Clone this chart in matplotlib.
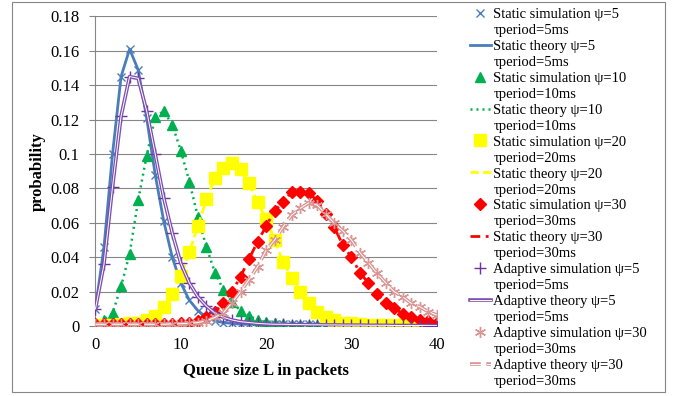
import numpy as np
import matplotlib
matplotlib.use("Agg")
from matplotlib import pyplot as plt
from matplotlib.lines import Line2D
from matplotlib.patches import Rectangle
from matplotlib.legend_handler import HandlerTuple

plt.rcParams['font.family'] = ['Liberation Serif', 'DejaVu Serif']

queue_size = np.arange(0, 41)

static_sim_5 = [0.010, 0.046, 0.100, 0.145, 0.161, 0.149, 0.121, 0.088, 0.061, 0.040,
                0.025, 0.015, 0.009, 0.005, 0.003, 0.002, 0.0015, 0.001, 0.001, 0.001,
                0.001, 0.001, 0.001, 0.001, 0.001, 0.001, 0.0008, 0.0007, 0.0006, 0.0005,
                0.0004, 0.0003, 0.0003, 0.0002, 0.0002, 0.0001, 0.0001, 0.0001, 0.0001, 0.0001, 0.0001]
static_sim_10 = [0.0005, 0.0035, 0.0074, 0.023, 0.042, 0.073, 0.099, 0.1215, 0.125, 0.117,
                 0.102, 0.084, 0.0635, 0.046, 0.031, 0.021, 0.014, 0.009, 0.006, 0.0035,
                 0.0025, 0.0015, 0.001, 0.0008, 0.0005, 0.0004, 0.0003, 0.0002, 0.0002, 0.0001,
                 0.0001, 0.0001, 0.0001, 0, 0, 0, 0, 0, 0, 0, 0]
static_sim_20 = [0.0005, 0.0005, 0.0007, 0.001, 0.0015, 0.002, 0.0035, 0.006, 0.011, 0.0186,
                 0.029, 0.043, 0.058, 0.0736, 0.086, 0.092, 0.0945, 0.091, 0.083, 0.072,
                 0.062, 0.050, 0.037, 0.028, 0.020, 0.0135, 0.0083, 0.005, 0.0035, 0.002,
                 0.0015, 0.001, 0.0008, 0.0006, 0.0005, 0.0004, 0.0003, 0.0003, 0.0002, 0.0002, 0.0001]
static_sim_30 = [0.001, 0.001, 0.001, 0.001, 0.001, 0.001, 0.001, 0.001, 0.001, 0.0012,
                 0.0015, 0.002, 0.003, 0.005, 0.0083, 0.0135, 0.020, 0.0286, 0.039, 0.049,
                 0.058, 0.067, 0.072, 0.078, 0.078, 0.0774, 0.0728, 0.065, 0.0573, 0.047,
                 0.040, 0.031, 0.025, 0.0186, 0.0135, 0.0103, 0.0072, 0.005, 0.0035, 0.0028, 0.0016]
adaptive_sim_5 = [0.010, 0.036, 0.081, 0.122, 0.145, 0.144, 0.125, 0.100, 0.0745, 0.054,
                  0.0365, 0.025, 0.017, 0.0116, 0.0075, 0.005, 0.0035, 0.0025, 0.002, 0.0015,
                  0.0012, 0.001, 0.001, 0.0008, 0.0008, 0.0007, 0.0007, 0.0006, 0.0006, 0.0005,
                  0.0005, 0.0005, 0.0004, 0.0004, 0.0004, 0.0003, 0.0003, 0.0003, 0.0003, 0.0002, 0.0002]
adaptive_sim_30 = [0.001, 0.001, 0.001, 0.001, 0.001, 0.001, 0.001, 0.001, 0.001, 0.0012,
                   0.0013, 0.0015, 0.002, 0.003, 0.005, 0.0078, 0.0135, 0.020, 0.027, 0.0345,
                   0.044, 0.050, 0.0577, 0.0645, 0.0684, 0.0716, 0.0703, 0.065, 0.0596, 0.0553,
                   0.050, 0.0426, 0.0368, 0.0306, 0.0252, 0.020, 0.017, 0.0132, 0.0112, 0.0083, 0.0064]

# the analytic curves sit on top of the simulated points
static_theory_5 = list(static_sim_5)
static_theory_10 = list(static_sim_10)
static_theory_20 = list(static_sim_20)
static_theory_30 = list(static_sim_30)
adaptive_theory_5 = list(adaptive_sim_5)
adaptive_theory_30 = list(adaptive_sim_30)

y_ticks = [0, 0.02, 0.04, 0.06, 0.08, 0.1, 0.12, 0.14, 0.16, 0.18]
y_tick_labels = ['0', '0.02', '0.04', '0.06', '0.08', '0.1', '0.12', '0.14', '0.16', '0.18']
x_ticks = [0, 10, 20, 30, 40]

BLUE = '#4a7ebb'
GREEN = '#00b050'
YELLOW = '#ffff00'
RED = '#ff0000'
PURPLE = '#7030a0'
PURPLE_LINE = '#7f4fb0'
PINK = '#d99694'
GRID = '#868686'

fig = plt.figure(figsize=(6.81, 3.96), dpi=100)
ax = fig.add_axes([0.1402, 0.1768, 0.5011, 0.7818])

entries = []

h = ax.plot(queue_size, static_sim_5, linestyle='none', marker='x', ms=6, mew=1.0, color=BLUE, zorder=3)[0]
entries.append((h, 'Static simulation \u03c8=5', '\u03c4period=5ms'))
h = ax.plot(queue_size, static_theory_5, color=BLUE, lw=2.0, zorder=3)[0]
entries.append((h, 'Static theory \u03c8=5', '\u03c4period=5ms'))

h = ax.plot(queue_size, static_sim_10, linestyle='none', marker='^', ms=7, color=GREEN, zorder=3)[0]
entries.append((h, 'Static simulation \u03c8=10', '\u03c4period=10ms'))
h = ax.plot(queue_size, static_theory_10, color=GREEN, lw=1.8, linestyle=(0, (0.8, 1.6)), zorder=3)[0]
entries.append((h, 'Static theory \u03c8=10', '\u03c4period=10ms'))

h = ax.plot(queue_size, static_sim_20, linestyle='none', marker='s', ms=8, color=YELLOW, zorder=3)[0]
entries.append((h, 'Static simulation \u03c8=20', '\u03c4period=20ms'))
h = ax.plot(queue_size, static_theory_20, color=YELLOW, lw=2.0, linestyle=(0, (3, 1.5)), zorder=3)[0]
entries.append((h, 'Static theory \u03c8=20', '\u03c4period=20ms'))

h = ax.plot(queue_size, static_sim_30, linestyle='none', marker='D', ms=6, color=RED, zorder=3)[0]
entries.append((h, 'Static simulation \u03c8=30', '\u03c4period=30ms'))
h = ax.plot(queue_size, static_theory_30, color=RED, lw=2.0, linestyle=(0, (3.5, 2, 1, 2)), zorder=3)[0]
entries.append((h, 'Static theory \u03c8=30', '\u03c4period=30ms'))

h = ax.plot(queue_size, adaptive_sim_5, linestyle='none', marker='+', ms=8, mew=1.0, color=PURPLE, zorder=3)[0]
entries.append((h, 'Adaptive simulation \u03c8=5', '\u03c4period=5ms'))
# double line: wide coloured stroke with a thin white core
h1 = ax.plot(queue_size, adaptive_theory_5, color=PURPLE_LINE, lw=2.6, zorder=3)[0]
h2 = ax.plot(queue_size, adaptive_theory_5, color='white', lw=0.7, zorder=3)[0]
entries.append(((h1, h2), 'Adaptive theory \u03c8=5', '\u03c4period=5ms'))

h = ax.plot(queue_size, adaptive_sim_30, linestyle='none', marker=(6, 2, 0), ms=8, mew=1.0, color=PINK, zorder=3)[0]
entries.append((h, 'Adaptive simulation \u03c8=30', '\u03c4period=30ms'))
h1 = ax.plot(queue_size, adaptive_theory_30, color=PINK, lw=2.6, linestyle=(0, (3, 1.5)), zorder=3)[0]
h2 = ax.plot(queue_size, adaptive_theory_30, color='white', lw=0.7, linestyle=(0, (3 * 2.6 / 0.7, 1.5 * 2.6 / 0.7)), zorder=3)[0]
entries.append(((h1, h2), 'Adaptive theory \u03c8=30', '\u03c4period=30ms'))

ax.set_xlim(0, 40)
ax.set_ylim(0, 0.18)
ax.set_xticks(x_ticks)
ax.set_yticks(y_ticks)
ax.set_yticklabels(y_tick_labels)
ax.tick_params(axis='both', labelsize=12)
ax.tick_params(axis='y', length=4, width=0.8, color=GRID, pad=7.5)
ax.tick_params(axis='x', length=0, pad=8)
ax.grid(axis='y', color=GRID, lw=0.8)
ax.set_axisbelow(True)
for side in ['top', 'right', 'bottom']:
    ax.spines[side].set_visible(False)
ax.spines['left'].set_color(GRID)
ax.spines['left'].set_linewidth(0.8)

ax.set_xlabel('Queue size L in packets', fontsize=12, fontweight='bold')
ax.set_ylabel('probability', fontsize=12, fontweight='bold')
ax.xaxis.set_label_coords(0.5, -0.118)
ax.yaxis.set_label_coords(-0.145, 0.5)

# each label is split over two legend rows so the key sits on the first row
blank = Line2D([], [], linestyle='none', marker='')
leg_handles = []
leg_labels = []
for handle, line1, line2 in entries:
    leg_handles += [handle, blank]
    leg_labels += [line1, line2]

fig.legend(leg_handles, leg_labels, loc='upper left', bbox_to_anchor=(0.690, 0.981),
           frameon=False, fontsize=10.5, borderpad=0, borderaxespad=0,
           handlelength=1.45, handletextpad=0.15, labelspacing=0.19,
           handler_map={tuple: HandlerTuple(ndivide=1)})

fig.patches.append(Rectangle((0.0176, 0.0101), 0.9589, 0.9849, transform=fig.transFigure,
                             fill=False, edgecolor=GRID, lw=0.8))

fig.savefig('out.png', dpi=100)
